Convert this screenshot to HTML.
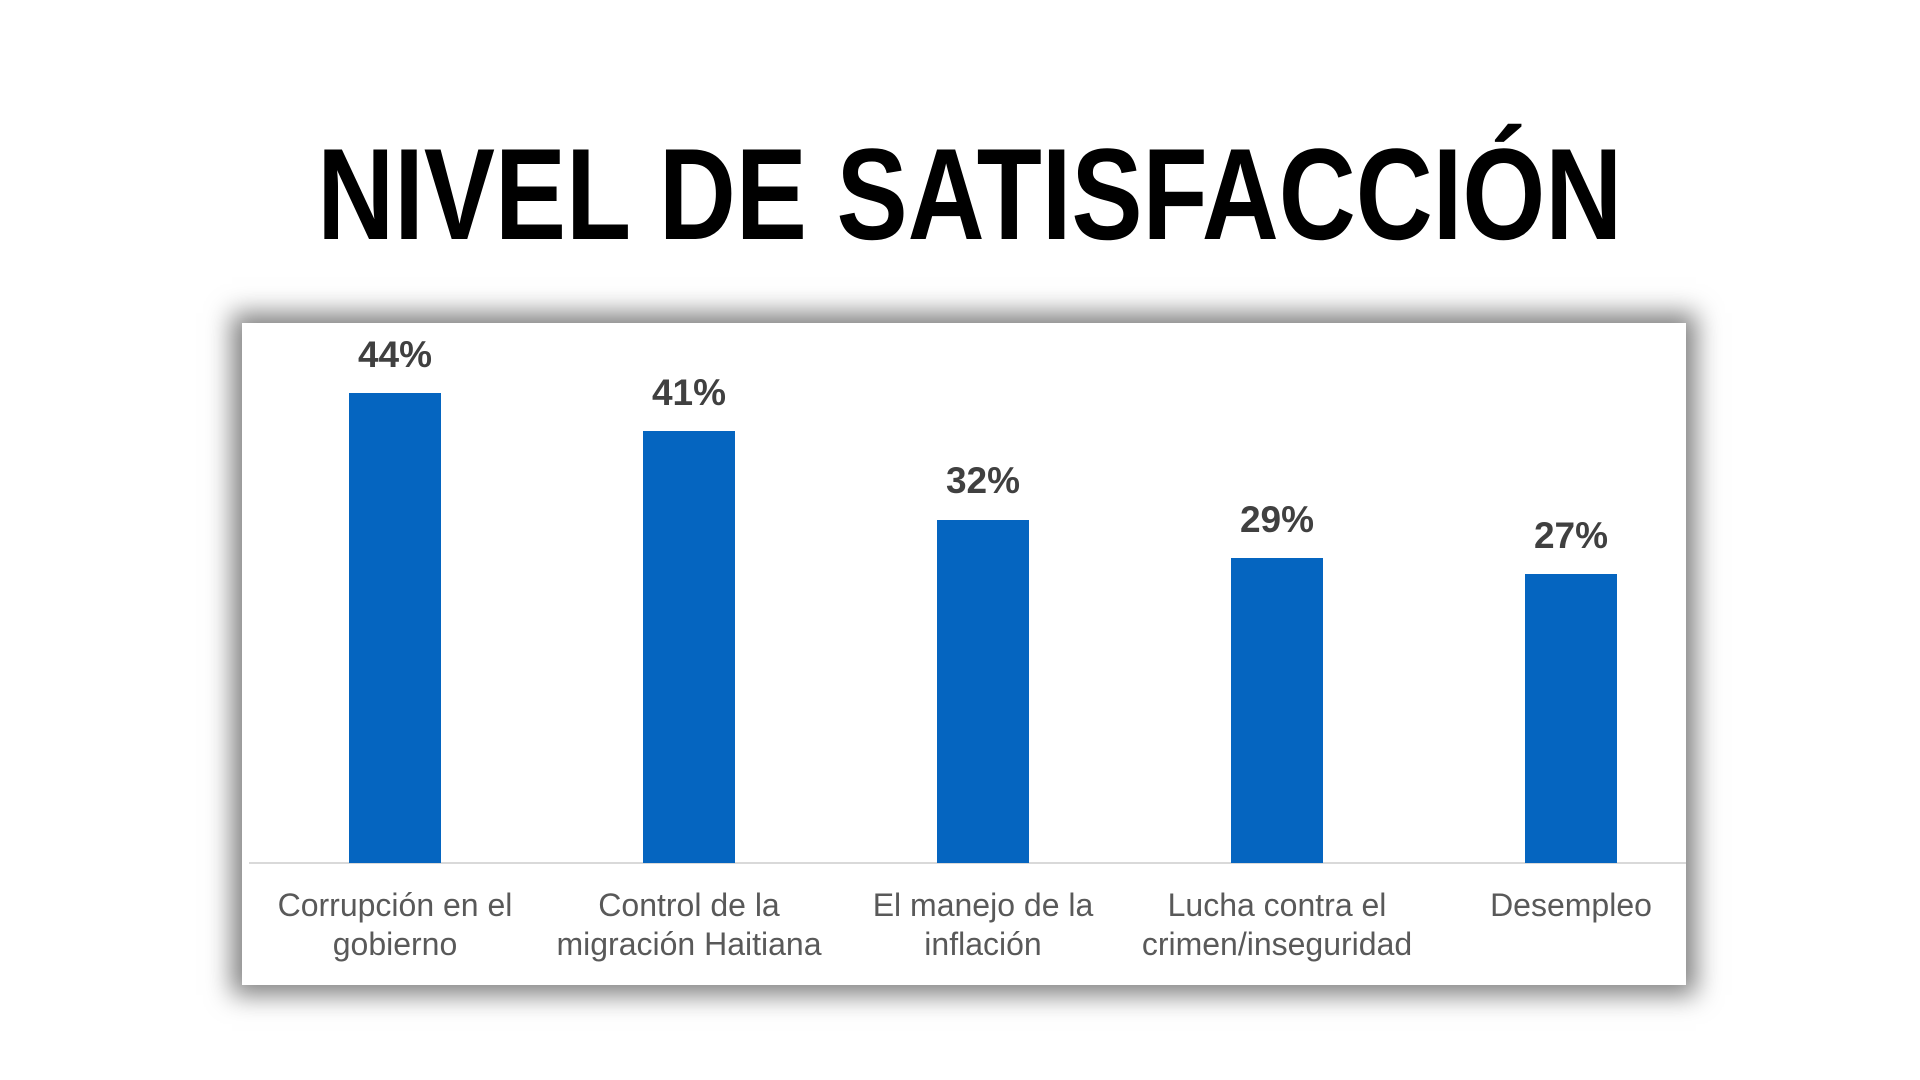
<!DOCTYPE html>
<html><head><meta charset="utf-8"><style>
html,body{margin:0;padding:0;background:#fff;width:1920px;height:1080px;overflow:hidden;font-family:"Liberation Sans",sans-serif}
.title{position:absolute;left:0;width:1940px;top:119px;text-align:center;font-weight:bold;font-size:130px;color:#000;letter-spacing:0}
.title span{display:inline-block;transform:scaleX(0.82);transform-origin:center}
.box{position:absolute;left:242px;top:323px;width:1444px;height:662px;background:#fff;box-shadow:0 0 24px 10px rgba(0,0,0,0.5)}
.axis{position:absolute;left:249px;width:1437px;top:862px;height:2px;background:#d9d9d9}
.bar{position:absolute;width:92px;background:#0565c0}
.val{position:absolute;width:200px;text-align:center;font-weight:bold;font-size:37px;color:#404040}
.cat{position:absolute;width:320px;text-align:center;font-size:32px;line-height:39px;color:#595959;top:886px}
</style></head><body>
<div class="title"><span>NIVEL DE SATISFACCIÓN</span></div>
<div class="box"></div>
<div class="axis"></div>
<div class="bar" style="left:349px;top:393px;height:470px"></div>
<div class="bar" style="left:643px;top:431px;height:432px"></div>
<div class="bar" style="left:937px;top:520px;height:343px"></div>
<div class="bar" style="left:1231px;top:558px;height:305px"></div>
<div class="bar" style="left:1525px;top:574px;height:289px"></div>
<div class="val" style="left:295px;top:334px">44%</div>
<div class="val" style="left:589px;top:372px">41%</div>
<div class="val" style="left:883px;top:460px">32%</div>
<div class="val" style="left:1177px;top:499px">29%</div>
<div class="val" style="left:1471px;top:515px">27%</div>
<div class="cat" style="left:235px">Corrupción en el<br>gobierno</div>
<div class="cat" style="left:529px">Control de la<br>migración Haitiana</div>
<div class="cat" style="left:823px">El manejo de la<br>inflación</div>
<div class="cat" style="left:1117px">Lucha contra el<br>crimen/inseguridad</div>
<div class="cat" style="left:1411px">Desempleo</div>
</body></html>
